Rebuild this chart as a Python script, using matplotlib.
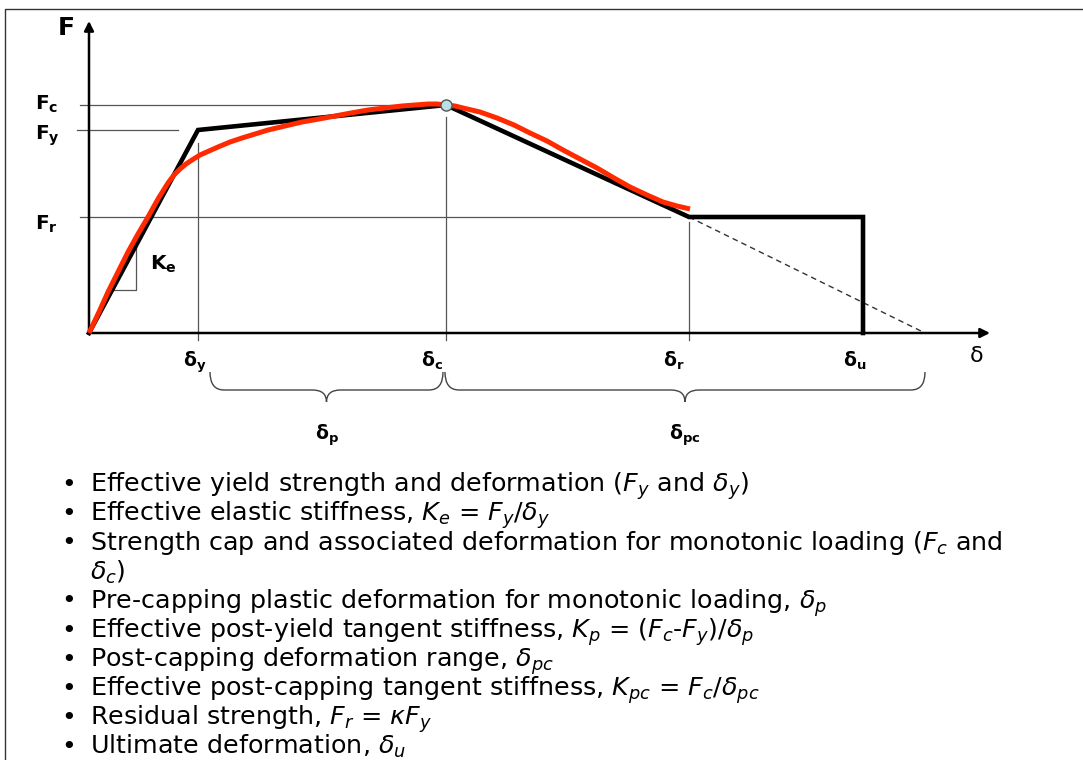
import matplotlib.pyplot as plt
import matplotlib as mpl
from matplotlib.path import Path
from matplotlib.patches import PathPatch

mpl.rcParams["font.family"] = ["DejaVu Sans"]
mpl.rcParams["mathtext.fontset"] = "custom"
mpl.rcParams["mathtext.rm"] = "DejaVu Sans"
mpl.rcParams["mathtext.it"] = "DejaVu Sans:italic"
mpl.rcParams["mathtext.bf"] = "DejaVu Sans:bold"

# characteristic points of the backbone (deformation, force)
d_y, d_c, d_r, d_u, d_end = 1.09, 3.57, 6.00, 7.74, 8.36
F_y, F_c, F_r = 2.03, 2.28, 1.16

# tri-linear backbone + residual plateau
backbone_d = [0, d_y, d_c, d_r, d_u, d_u]
backbone_F = [0, F_y, F_c, F_r, F_r, 0]

curve_d = [0, 0.10, 0.19, 0.29, 0.39, 0.49, 0.59, 0.69, 0.79, 0.85, 0.91,
           0.97, 1.03, 1.11, 1.20, 1.29, 1.41, 1.53, 1.66, 1.79, 1.96, 2.13,
           2.30, 2.46, 2.62, 2.79, 2.96, 3.13, 3.26, 3.39, 3.48, 3.57, 3.66,
           3.74, 3.91, 4.08, 4.25, 4.41, 4.58, 4.74, 4.91, 5.08, 5.25, 5.41,
           5.58, 5.74, 5.88, 6.01]
curve_F = [0, 0.21, 0.41, 0.61, 0.81, 0.99, 1.16, 1.34, 1.50, 1.58, 1.64,
           1.69, 1.73, 1.78, 1.82, 1.86, 1.91, 1.95, 1.99, 2.03, 2.07, 2.11,
           2.14, 2.17, 2.20, 2.23, 2.25, 2.27, 2.28, 2.29, 2.29, 2.28, 2.27,
           2.25, 2.21, 2.15, 2.08, 2.00, 1.92, 1.83, 1.74, 1.65, 1.55, 1.46,
           1.38, 1.31, 1.27, 1.24]

force_labels = [r"$\mathbf{F_c}$", r"$\mathbf{F_y}$", r"$\mathbf{F_r}$"]
disp_labels = [r"$\mathbf{\delta_y}$", r"$\mathbf{\delta_c}$",
               r"$\mathbf{\delta_r}$", r"$\mathbf{\delta_u}$"]

bullets = [
    r"Effective yield strength and deformation ($F_y$ and $\delta_y$)",
    r"Effective elastic stiffness, $K_e$ = $F_y$/$\delta_y$",
    r"Strength cap and associated deformation for monotonic loading ($F_c$ and",
    r"$\delta_c$)",
    r"Pre-capping plastic deformation for monotonic loading, $\delta_p$",
    r"Effective post-yield tangent stiffness, $K_p$ = ($F_c$-$F_y$)/$\delta_p$",
    r"Post-capping deformation range, $\delta_{pc}$",
    r"Effective post-capping tangent stiffness, $K_{pc}$ = $F_c$/$\delta_{pc}$",
    r"Residual strength, $F_r$ = $\kappa F_y$",
    r"Ultimate deformation, $\delta_u$",
]
has_bullet = [True, True, True, False, True, True, True, True, True, True]

W, H = 1083, 760
fig = plt.figure(figsize=(W / 100, H / 100), dpi=100)
ax = fig.add_axes([0, 0, 1, 1])
ax.set_xlim(-0.89, (W - 89) / 100)
ax.set_ylim(-(H - 333) / 100, 3.33)
ax.axis("off")

# frame (left and top edges only are visible)
ax.plot([-0.84, -0.84, 9.94], [-4.27, 3.24, 3.24], color="#333333", lw=1.0)

thin = dict(color="#555555", lw=0.9)
# horizontal guide lines
ax.plot([-0.09, d_c], [F_c, F_c], **thin)
ax.plot([-0.12, 0.89], [F_y, F_y], **thin)
ax.plot([-0.09, 5.81], [F_r, F_r], **thin)
# vertical guide lines
ax.plot([d_y, d_y], [-0.07, 1.90], **thin)
ax.plot([d_c, d_c], [-0.07, 2.16], **thin)
ax.plot([d_r, d_r], [-0.07, 1.11], **thin)

# elastic stiffness triangle
k_e = F_y / d_y
ax.plot([0.43 / k_e, 0.47, 0.47], [0.43, 0.43, 0.47 * k_e], **thin)

# dashed extension of post-capping branch
ax.plot([d_r, d_end], [F_r, 0], color="#333333", lw=1.0, ls=(0, (4, 3)))

# axes with arrows
arrow = dict(arrowstyle="-|>", color="black", lw=1.8, mutation_scale=14,
             shrinkA=0, shrinkB=0)
ax.annotate("", xy=(9.01, 0), xytext=(0, 0), arrowprops=arrow)
ax.annotate("", xy=(0, 3.12), xytext=(0, 0), arrowprops=arrow)

# curves
ax.plot(backbone_d, backbone_F, color="black", lw=3.3, solid_joinstyle="miter",
        zorder=3)
ax.plot(curve_d, curve_F, color="#ff2a00", lw=3.6, solid_joinstyle="round",
        solid_capstyle="butt", zorder=4)
ax.plot([d_c], [F_c], "o", ms=8, mfc="#b8e0e6", mec="#555555", mew=1.0,
        zorder=5)

# axis titles
ax.text(-0.31, 2.98, "F", fontsize=18, fontweight="bold", ha="left",
        va="baseline")
ax.text(8.81, -0.29, "\u03b4", fontsize=16, ha="left", va="baseline")

# force labels
for lab, yb in zip(force_labels, [2.23, 1.93, 1.03]):
    ax.text(-0.54, yb, lab, fontsize=14.5, ha="left", va="baseline")
ax.text(0.61, 0.63, r"$\mathbf{K_e}$", fontsize=14.5, ha="left", va="baseline")

# deformation labels
for lab, xc in zip(disp_labels, [d_y - 0.03, d_c - 0.14, d_r - 0.15, d_u - 0.08]):
    ax.text(xc, -0.34, lab, fontsize=13.5, ha="center", va="baseline")


def brace(x0, x1, yt=-0.39, ym=-0.57, ytip=-0.69, r=0.14):
    xc = (x0 + x1) / 2
    verts = [(x0, yt), (x0, ym), (x0 + r, ym), (xc - r, ym), (xc, ym),
             (xc, ytip),
             (xc, ytip), (xc, ym), (xc + r, ym), (x1 - r, ym), (x1, ym),
             (x1, yt)]
    codes = [Path.MOVETO, Path.CURVE3, Path.CURVE3, Path.LINETO, Path.CURVE3,
             Path.CURVE3,
             Path.MOVETO, Path.CURVE3, Path.CURVE3, Path.LINETO, Path.CURVE3,
             Path.CURVE3]
    ax.add_patch(PathPatch(Path(verts, codes), fc="none", ec="#444444",
                           lw=1.0))
    return xc


xp = brace(d_y + 0.12, d_c - 0.03)
xpc = brace(d_c - 0.01, d_end)
ax.text(xp, -1.07, r"$\mathbf{\delta_p}$", fontsize=13.5, ha="center",
        va="baseline")
ax.text(xpc, -1.07, r"$\mathbf{\delta_{pc}}$", fontsize=13.5, ha="center",
        va="baseline")

# bullet list
for i, (txt, b) in enumerate(zip(bullets, has_bullet)):
    yb = 1 - (492 + 29.1 * i) / H
    if b:
        fig.text(69 / W, yb, "\u2022", fontsize=18, ha="center", va="baseline")
    fig.text(90 / W, yb, txt, fontsize=18.3, ha="left", va="baseline")

fig.savefig("out.png", dpi=100)
